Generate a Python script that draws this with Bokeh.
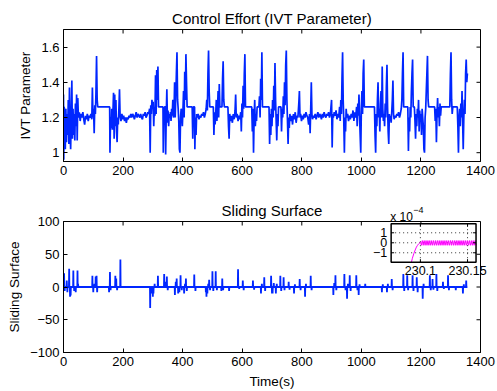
from bokeh.plotting import figure
from bokeh.layouts import column
from bokeh.models import Range1d, FixedTicker
from bokeh.embed import file_html
from bokeh.resources import INLINE
from bokeh.core.properties import value
import math

FONT = "Liberation Sans"
BLUE = "#0026ff"
MAGENTA = "#ff00ff"

# ---------------- data ----------------
x_ticks = [0, 200, 400, 600, 800, 1000, 1200, 1400]
ivt_ticks = [1, 1.2, 1.4, 1.6]
ivt_tick_labels = ["1", "1.2", "1.4", "1.6"]
ss_ticks = [-100, -50, 0, 50, 100]
ss_tick_labels = ["\u2212100", "\u221250", "0", "50", "100"]

ivt_time = [
    0, 1, 2, 4, 6, 8, 10, 12, 14, 16,
    18, 20, 22, 24, 26, 28, 30, 32, 34, 36,
    38, 40, 42, 44, 46, 48, 50, 53, 56, 59,
    62, 65, 68, 71, 74, 77, 80, 83, 86, 89,
    92, 95, 97, 99, 101, 103, 105, 107, 109, 111,
    113, 115, 155, 156, 158, 160, 162, 164, 166, 168,
    170, 172, 174, 176, 178, 180, 182, 184, 186, 188,
    190, 193, 196, 199, 202, 205, 208, 211, 214, 217,
    220, 223, 226, 229, 232, 235, 238, 241, 244, 247,
    250, 253, 256, 259, 262, 265, 268, 271, 274, 277,
    280, 283, 286, 289, 291, 293, 295, 297, 299, 301,
    303, 305, 307, 309, 311, 313, 315, 317, 319, 334,
    335, 337, 339, 342, 343, 345, 347, 349, 351, 353,
    355, 357, 359, 361, 363, 365, 367, 369, 371, 373,
    375, 377, 379, 381, 383, 385, 387, 389, 391, 393,
    395, 397, 399, 401, 403, 405, 407, 409, 411, 413,
    415, 432, 434, 436, 440, 441, 443, 445, 447, 449,
    452, 455, 458, 461, 464, 467, 470, 473, 476, 479,
    481, 483, 485, 487, 489, 491, 503, 505, 507, 509,
    511, 513, 515, 517, 519, 521, 523, 525, 532, 534,
    536, 538, 540, 552, 554, 556, 558, 561, 564, 567,
    570, 573, 576, 578, 580, 583, 586, 589, 592, 595,
    597, 599, 601, 603, 605, 607, 609, 611, 632, 634,
    636, 638, 640, 642, 644, 646, 648, 650, 656, 658,
    660, 662, 664, 666, 668, 690, 692, 694, 696, 698,
    700, 702, 704, 706, 708, 710, 712, 714, 716, 718,
    720, 722, 730, 732, 734, 736, 738, 740, 742, 744,
    746, 748, 750, 752, 754, 756, 758, 760, 763, 766,
    769, 772, 775, 778, 781, 784, 787, 790, 792, 794,
    796, 799, 802, 805, 808, 811, 814, 817, 820, 823,
    826, 828, 830, 832, 834, 836, 839, 842, 845, 848,
    851, 854, 857, 860, 863, 866, 869, 872, 875, 878,
    881, 884, 887, 890, 893, 896, 898, 900, 902, 904,
    906, 909, 912, 915, 918, 921, 924, 927, 929, 931,
    933, 935, 937, 939, 941, 943, 945, 947, 949, 951,
    954, 957, 960, 963, 966, 969, 972, 975, 978, 981,
    984, 986, 988, 990, 992, 994, 996, 998, 1000, 1002,
    1004, 1006, 1008, 1010, 1044, 1046, 1048, 1050, 1052, 1054,
    1056, 1058, 1060, 1062, 1064, 1066, 1068, 1070, 1072, 1074,
    1076, 1078, 1080, 1082, 1084, 1086, 1088, 1090, 1092, 1094,
    1096, 1098, 1100, 1102, 1104, 1106, 1108, 1110, 1113, 1116,
    1119, 1122, 1125, 1128, 1131, 1134, 1136, 1138, 1140, 1142,
    1156, 1158, 1160, 1162, 1164, 1166, 1168, 1170, 1172, 1174,
    1178, 1180, 1182, 1184, 1186, 1188, 1190, 1192, 1194, 1196,
    1198, 1200, 1202, 1204, 1206, 1208, 1210, 1212, 1214, 1216,
    1218, 1220, 1222, 1224, 1226, 1246, 1248, 1250, 1252, 1254,
    1256, 1258, 1260, 1262, 1264, 1266, 1268, 1297, 1299, 1301,
    1303, 1305, 1307, 1322, 1324, 1326, 1328, 1330, 1332, 1334,
    1336, 1338, 1340, 1342, 1344, 1346, 1348, 1350, 1352, 1354, 1356,
]
ivt_value = [
    1.33, 0.96, 1.26, 1.24, 1.02, 1.25, 1.06, 1.22, 1.10, 1.30,
    1.05, 1.37, 1.13, 1.02, 1.20, 1.41, 1.08, 1.25, 1.10, 1.22,
    1.07, 1.28, 1.15, 1.33, 1.07, 1.31, 1.20, 1.23, 1.18, 1.22,
    1.20, 1.23, 1.19, 1.16, 1.21, 1.19, 1.22, 1.18, 1.21, 1.20,
    1.22, 1.19, 1.37, 1.20, 1.25, 1.11, 1.27, 1.22, 1.34, 1.55,
    1.30, 1.26, 1.26, 1.00, 1.20, 1.14, 1.25, 1.13, 1.23, 1.34,
    1.08, 1.33, 1.15, 1.30, 1.12, 1.06, 1.20, 1.16, 1.25, 1.36,
    1.21, 1.18, 1.22, 1.19, 1.21, 1.18, 1.20, 1.17, 1.20, 1.19,
    1.21, 1.20, 1.22, 1.20, 1.22, 1.21, 1.19, 1.21, 1.23, 1.20,
    1.22, 1.21, 1.20, 1.22, 1.20, 1.19, 1.22, 1.21, 1.23, 1.20,
    1.21, 1.23, 1.22, 1.25, 1.00, 1.27, 1.22, 1.30, 1.25, 1.29,
    1.15, 1.26, 1.21, 1.44, 1.22, 1.47, 1.30, 1.49, 1.26, 1.26,
    1.00, 1.20, 1.26, 1.26, 0.99, 1.22, 1.36, 1.17, 1.24, 1.15,
    1.22, 1.20, 1.23, 1.18, 1.25, 1.21, 1.30, 1.20, 1.22, 1.40,
    1.20, 1.32, 1.45, 1.57, 1.30, 1.25, 1.18, 1.02, 1.00, 1.20,
    1.25, 1.22, 1.15, 1.24, 1.35, 1.20, 1.46, 1.30, 1.56, 1.40,
    1.26, 1.26, 1.08, 1.26, 1.26, 1.02, 1.20, 1.10, 1.22, 1.20,
    1.22, 1.19, 1.21, 1.20, 1.22, 1.21, 1.23, 1.20, 1.22, 1.25,
    1.30, 1.24, 1.45, 1.58, 1.35, 1.26, 1.26, 1.10, 1.23, 1.16,
    1.22, 1.30, 1.18, 1.24, 1.35, 1.20, 1.39, 1.26, 1.26, 1.42,
    1.52, 1.30, 1.26, 1.26, 1.15, 1.08, 1.22, 1.18, 1.21, 1.17,
    1.22, 1.19, 1.24, 1.33, 1.20, 1.22, 1.18, 1.21, 1.19, 1.23,
    1.12, 1.28, 1.20, 1.38, 1.25, 1.45, 1.56, 1.26, 1.26, 1.12,
    1.25, 1.00, 1.20, 1.30, 1.15, 1.22, 1.18, 1.26, 1.26, 1.32,
    1.20, 1.42, 1.30, 1.57, 1.26, 1.26, 1.05, 1.22, 1.10, 1.25,
    1.15, 1.30, 1.20, 1.38, 1.24, 1.51, 1.30, 1.18, 1.07, 1.22,
    1.15, 1.26, 1.26, 1.12, 1.25, 1.20, 1.32, 1.22, 1.40, 1.27,
    1.50, 1.58, 1.30, 1.18, 1.05, 1.20, 1.14, 1.22, 1.18, 1.21,
    1.16, 1.22, 1.19, 1.23, 1.17, 1.21, 1.20, 1.28, 1.35, 1.20,
    1.22, 1.18, 1.21, 1.19, 1.22, 1.20, 1.23, 1.21, 1.20, 1.16,
    1.22, 1.11, 1.25, 1.40, 1.22, 1.19, 1.21, 1.20, 1.22, 1.19,
    1.21, 1.23, 1.20, 1.22, 1.21, 1.19, 1.22, 1.20, 1.23, 1.21,
    1.20, 1.22, 1.21, 1.23, 1.20, 1.22, 1.26, 1.30, 1.03, 1.22,
    1.20, 1.23, 1.21, 1.24, 1.19, 1.22, 1.20, 1.26, 1.18, 1.30,
    1.22, 1.42, 1.57, 1.30, 1.18, 1.00, 1.20, 1.12, 1.25, 1.20,
    1.22, 1.18, 1.21, 1.19, 1.22, 1.20, 1.24, 1.18, 1.23, 1.20,
    1.26, 1.15, 1.28, 1.21, 1.33, 1.20, 1.10, 1.00, 1.25, 1.35,
    1.22, 1.45, 1.53, 1.26, 1.26, 1.10, 1.00, 1.22, 1.15, 1.30,
    1.40, 1.20, 1.25, 1.12, 1.28, 1.35, 1.20, 1.49, 1.25, 1.18,
    1.22, 1.15, 1.28, 1.20, 1.38, 1.50, 1.26, 1.12, 1.05, 1.22,
    1.18, 1.21, 1.17, 1.23, 1.30, 1.41, 1.22, 1.19, 1.21, 1.20,
    1.22, 1.21, 1.23, 1.20, 1.22, 1.25, 1.30, 1.45, 1.57, 1.26,
    1.26, 1.01, 1.20, 1.12, 1.26, 1.20, 1.35, 1.45, 1.53, 1.26,
    1.26, 1.18, 1.08, 1.22, 1.15, 1.25, 1.20, 1.30, 1.12, 1.24,
    1.18, 1.22, 1.10, 1.25, 1.20, 1.15, 1.02, 1.00, 1.20, 1.25,
    1.35, 1.45, 1.55, 1.30, 1.26, 1.26, 1.18, 1.25, 1.06, 1.22,
    1.31, 1.20, 1.26, 1.15, 1.28, 1.21, 1.26, 1.26, 1.45, 1.57,
    1.30, 1.22, 1.26, 1.26, 1.15, 1.00, 1.20, 1.25, 1.15, 1.28,
    1.20, 1.35, 1.18, 1.02, 1.20, 1.30, 1.22, 1.45, 1.53, 1.40, 1.45,
]
assert len(ivt_time) == len(ivt_value)

# sliding surface: spike instants and peak values (baseline is 0 between them)
sliding_time = [
    0, 2, 4, 11, 13, 19, 22, 24, 33, 36, 41, 47, 49,
    97, 100, 104, 108, 111, 113, 153, 156, 158, 174, 177, 180, 191,
    291, 296, 300, 302, 306, 317, 338, 343, 347, 350,
    374, 377, 380, 385, 389, 393, 397, 405, 408, 411, 414, 439, 443,
    478, 480, 483, 486, 489, 492, 500, 503, 511, 515, 530, 533, 536, 556, 586, 590, 602, 605,
    636, 640, 663, 666, 674, 677, 697, 700, 702, 706, 713, 716, 728, 731, 739, 742, 756, 759,
    774, 777, 793, 796, 811, 814, 830, 833, 906, 909, 913, 916, 943, 947, 952, 955, 961, 964,
    983, 987, 991, 994, 1013, 1069, 1072, 1086, 1089, 1102, 1105, 1141, 1144, 1154, 1157,
    1172, 1175, 1186, 1189, 1206, 1209, 1230, 1233, 1239, 1242, 1252, 1255, 1274, 1277,
    1291, 1294, 1317, 1341, 1344, 1352, 1356,
]
sliding_value = [
    0, 21, -6, 10, -8, 28, -15, -13, 25, -6, -8, 25, 5,
    17, -8, 5, 16, 17, -8, -8, 23, -5, 17, 13, -5, 42,
    -32, -10, -15, -10, 5, 17, 20, 8, 16, -5,
    -12, 8, 13, -10, -8, 18, -5, -10, 5, 13, -6, 19, -6,
    -8, -15, -10, 5, 11, -5, 24, -6, 24, -5, -6, 13, -5, -6, 27, -3, 10, -5,
    10, -4, -10, 5, 15, -6, 17, -10, -10, 6, -10, 5, 17, -6, 15, -5, 8, -4,
    -10, 4, 12, -5, -15, 5, 17, -5, -12, 6, 18, -5, 20, -5, -18, 5, 18, -6,
    18, -5, -12, 4, 5, -8, 4, -8, 5, 12, -5, 20, -6, 18, -5,
    18, -6, 15, -8, -18, 5, 18, -5, 12, -4, 20, -6, 8, -3,
    18, -5, -5, -10, 4, 10, 0,
]
assert len(sliding_time) == len(sliding_value)

# inset (zoom near t = 230.1 s), values in units of 1e-4
inset_time = [
    230.0905, 230.0915, 230.0930, 230.0945, 230.0958, 230.0970, 230.0982, 230.0993, 230.1003,
    230.101, 230.102, 230.103, 230.104, 230.105, 230.106, 230.107, 230.108, 230.109, 230.110,
    230.111, 230.112, 230.113, 230.114, 230.115, 230.116, 230.117, 230.118, 230.119, 230.120,
    230.121, 230.122, 230.123, 230.124, 230.125, 230.126, 230.127, 230.128, 230.129, 230.130,
    230.131, 230.132, 230.133, 230.134, 230.135, 230.136, 230.137, 230.138, 230.139, 230.140,
    230.141, 230.142, 230.143, 230.144, 230.145, 230.146, 230.147, 230.148, 230.149, 230.150,
    230.151, 230.152, 230.153, 230.154, 230.155, 230.156, 230.157, 230.158, 230.159,
]
inset_value = [
    -1.95, -1.55, -1.10, -0.72, -0.43, -0.25, -0.10, 0.00, 0.08,
    -0.25, 0.22, -0.25, 0.22, -0.25, 0.22, -0.25, 0.22, -0.25, 0.22,
    -0.25, 0.22, -0.25, 0.22, -0.25, 0.22, -0.25, 0.22, -0.25, 0.22,
    -0.25, 0.22, -0.25, 0.22, -0.25, 0.22, -0.25, 0.22, -0.25, 0.22,
    -0.25, 0.22, -0.25, 0.22, -0.25, 0.22, -0.25, 0.22, -0.25, 0.22,
    -0.25, 0.22, -0.25, 0.22, -0.25, 0.22, -0.25, 0.22, -0.25, 0.22,
    -0.25, 0.22, -0.25, 0.22, -0.25, 0.22, -0.25, 0.22, -0.25,
]
assert len(inset_time) == len(inset_value)
inset_xticks = [230.1, 230.15]
inset_xtick_labels = ["230.1", "230.15"]
inset_yticks = [1, 0, -1]
inset_ytick_labels = ["1", "0", "\u22121"]

titles = ["Control Effort (IVT Parameter)", "Sliding Surface"]


# ---------------- helpers ----------------
def style(p, yticks, ylabels, title):
    p.outline_line_color = "black"
    p.outline_line_alpha = 1.0
    p.outline_line_width = 1
    p.xgrid.visible = False
    p.ygrid.visible = False
    p.background_fill_color = "white"
    p.border_fill_color = "white"
    for ax in (p.xaxis[0], p.yaxis[0]):
        ax.major_tick_in = 4
        ax.major_tick_out = 0
        ax.minor_tick_line_color = None
        ax.axis_line_color = "black"
        ax.major_tick_line_color = "black"
        ax.major_label_text_font = FONT
        ax.major_label_text_font_size = "13px"
        ax.major_label_text_color = "black"
        ax.major_label_standoff = 4
        ax.axis_label_text_font = FONT
        ax.axis_label_text_font_size = "13.5px"
        ax.axis_label_text_font_style = "normal"
        ax.axis_label_text_color = "black"
    p.xaxis[0].ticker = FixedTicker(ticks=x_ticks)
    p.yaxis[0].ticker = FixedTicker(ticks=yticks)
    p.yaxis[0].major_label_overrides = {t: l for t, l in zip(yticks, ylabels)}
    xr, yr = p.x_range, p.y_range
    # mirrored inward tick marks on the top and right edges of the box
    p.ray(x=x_ticks, y=[yr.end] * len(x_ticks), length=4, angle=-math.pi / 2,
          length_units="screen", line_color="black", line_width=1)
    p.ray(x=[xr.end] * len(yticks), y=yticks, length=4, angle=math.pi,
          length_units="screen", line_color="black", line_width=1)
    # title centred over the axes box
    tr = p.text(x=[(xr.start + xr.end) / 2], y=[yr.end], text=[title], y_offset=-11,
                text_align="center", text_baseline="alphabetic",
                text_font=value(FONT), text_font_size=value("15px"), text_color="black")
    tr.level = "overlay"


# ---------------- top: control effort ----------------
p1 = figure(width=497, height=190, output_backend="svg", toolbar_location=None,
            x_range=Range1d(0, 1400), y_range=Range1d(0.95, 1.70),
            min_border_left=63, min_border_right=17, min_border_top=29, min_border_bottom=29)
style(p1, ivt_ticks, ivt_tick_labels, titles[0])
p1.yaxis[0].axis_label = "IVT Parameter"
p1.line(ivt_time, ivt_value, line_color=BLUE, line_width=1.7)

# ---------------- bottom: sliding surface ----------------
p2 = figure(width=497, height=201, output_backend="svg", toolbar_location=None,
            x_range=Range1d(0, 1400), y_range=Range1d(-100, 100),
            min_border_left=63, min_border_right=17, min_border_top=31, min_border_bottom=39)
style(p2, ss_ticks, ss_tick_labels, titles[1])
p2.yaxis[0].axis_label = "Sliding Surface"
p2.xaxis[0].axis_label = "Time(s)"

sx, sy = [], []
for t, v in zip(sliding_time, sliding_value):
    if v == 0:
        sx.append(t)
        sy.append(0)
    else:
        sx += [t - 0.7, t, t + 0.7]
        sy += [0, v, 0]
p2.line(sx, sy, line_color=BLUE, line_width=1.8)

# ---------------- inset ----------------
ix = Range1d(230.069, 230.159)
iy = Range1d(-1.94, 1.90)
sub = p2.subplot(x_source=ix, y_source=iy,
                 x_target=Range1d(1100, 1385), y_target=Range1d(37.9, 96.5))
sub.quad(left=[ix.start], right=[ix.end], bottom=[iy.start], top=[iy.end],
         fill_color="white", line_color=None)
sub.segment(x0=[ix.start] * len(inset_yticks), x1=[ix.end] * len(inset_yticks),
            y0=inset_yticks, y1=inset_yticks, line_color="#333333", line_dash="1 3", line_width=1)
sub.segment(x0=inset_xticks, x1=inset_xticks, y0=[iy.start] * 2, y1=[iy.end] * 2,
            line_color="#333333", line_dash="1 3", line_width=1)
sub.line(inset_time, inset_value, line_color=MAGENTA, line_width=1)
sub.ray(x=[ix.start] * 3, y=inset_yticks, length=3, angle=0, length_units="screen", line_color="black")
sub.ray(x=[ix.end] * 3, y=inset_yticks, length=3, angle=math.pi, length_units="screen", line_color="black")
sub.ray(x=inset_xticks, y=[iy.start] * 2, length=3, angle=math.pi / 2, length_units="screen", line_color="black")
sub.ray(x=inset_xticks, y=[iy.end] * 2, length=3, angle=-math.pi / 2, length_units="screen", line_color="black")
sub.quad(left=[ix.start], right=[ix.end], bottom=[iy.start], top=[iy.end],
         fill_color=None, line_color="black", line_width=1.5)
t1 = sub.text(x=[ix.start] * 3, y=inset_yticks, text=inset_ytick_labels, x_offset=-4,
              text_align="right", text_baseline="middle",
              text_font=value(FONT), text_font_size=value("12.5px"), text_color="black")
t2 = sub.text(x=inset_xticks, y=[iy.start] * 2, text=inset_xtick_labels, y_offset=4,
              text_align="center", text_baseline="top",
              text_font=value(FONT), text_font_size=value("12.5px"), text_color="black")
t3 = sub.text(x=[ix.start], y=[iy.end], text=["x 10"], x_offset=-1, y_offset=-7,
              text_align="left", text_baseline="alphabetic",
              text_font=value(FONT), text_font_size=value("12px"), text_color="black")
t4 = sub.text(x=[ix.start], y=[iy.end], text=["\u22124"], x_offset=22, y_offset=-14,
              text_align="left", text_baseline="alphabetic",
              text_font=value(FONT), text_font_size=value("9px"), text_color="black")
for r in (t1, t2, t3, t4):
    r.level = "overlay"

layout = column(p1, p2, spacing=0)
open("out.html", "w").write(file_html(layout, INLINE))
